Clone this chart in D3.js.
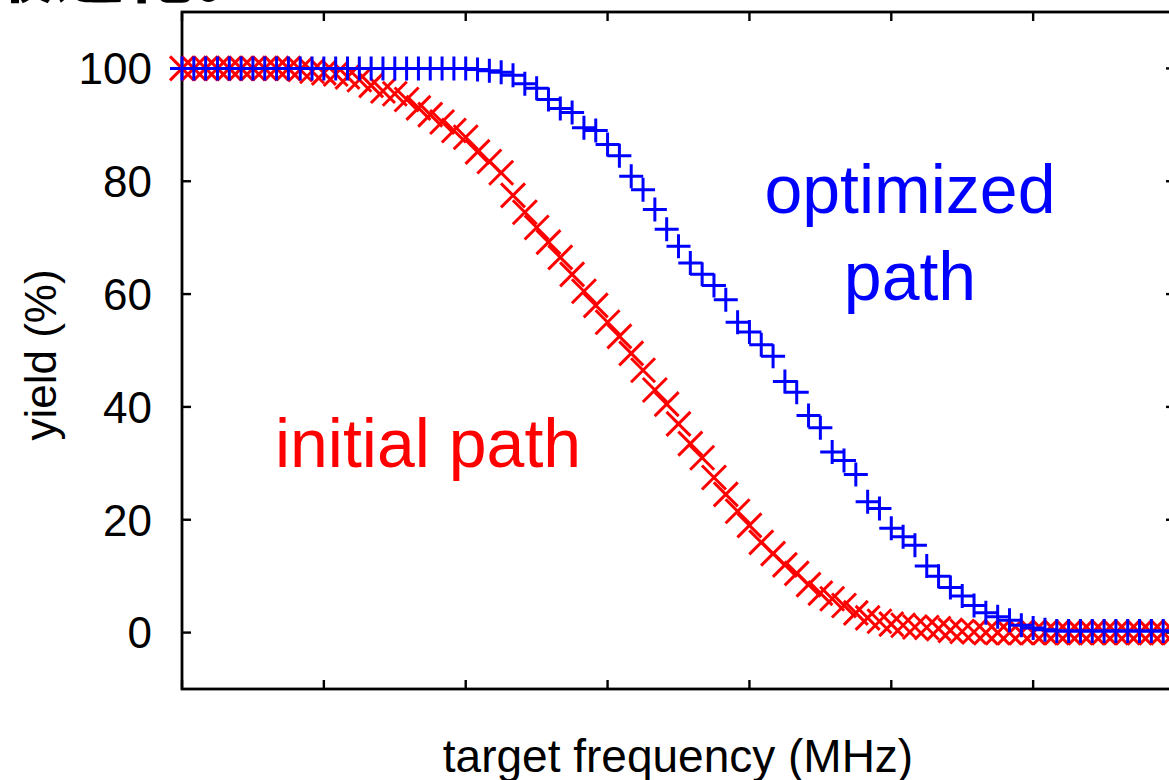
<!DOCTYPE html>
<html>
<head>
<meta charset="utf-8">
<script src="https://cdn.jsdelivr.net/npm/d3@7"></script>
<style>
  body { margin: 0; background: #fff; }
  svg { display: block; }
</style>
</head>
<body>
<div id="chart"></div>
<script>
// Frequency steps (x axis has no labels, only ticks every 12 steps)
const freqSteps = d3.range(85);
const xTickValues = [0, 12, 24, 36, 48, 60, 72, 84];
const yTickValues = [0, 20, 40, 60, 80, 100];

// Yield (%) of the initial path, one value per frequency step
const initialYield = [
    100, 100, 100, 100, 100, 100, 100, 100, 100, 100,
    99.8, 99.5, 99.2, 99, 98.5, 98, 97, 96, 95.5, 94.5,
    93, 91.8, 90.5, 89, 87.8, 85.2, 83.5, 81.5, 77.5, 74.5,
    71.8, 69.2, 66.5, 63.5, 60.5, 58, 55, 52.5, 49.5, 46.5,
    43, 40.5, 37, 33.5, 31, 27.5, 24.5, 21.5, 19, 16,
    14, 12, 10.5, 8.5, 7, 6, 4.8, 3.5, 2.6, 2,
    1.5, 1.3, 1, 0.9, 0.7, 0.4, 0.2, 0.1, 0, 0,
    0, 0, 0, 0, 0, 0, 0, 0, 0, 0,
    0, 0, 0, 0, 0
];

// Yield (%) of the optimized path
const optimizedYield = [
    100, 100, 100, 100, 100, 100, 100, 100, 100, 100,
    100, 100, 100, 100, 100, 100, 100, 100, 100, 100,
    100, 100, 100, 100, 100, 99.8, 99.6, 99.3, 98.8, 97.3,
    96.5, 94.5, 92.9, 92.2, 89.5, 89, 86.5, 84.5, 80.9, 78.5,
    75, 71.5, 68.5, 65.5, 63.5, 61.5, 59, 55, 53.3, 51,
    49, 44.5, 42.6, 38.5, 36.3, 32, 30.5, 28, 23.2, 22,
    18.5, 17, 15.5, 11.8, 10, 8, 6.5, 4.8, 3.5, 2.8,
    2.2, 1.3, 0.8, 0.5, 0.3, 0.3, 0.3, 0.3, 0.3, 0.3,
    0.3, 0.3, 0.3, 0.3, 0.3
];

const width = 1169, height = 780;
const font = "'Liberation Sans', Arial, Helvetica, sans-serif";

const svg = d3.select("#chart").append("svg")
    .attr("width", width)
    .attr("height", height);

// Cropped heading from the page above the figure (only its lower edge shows)
svg.append("text")
    .attr("x", -15)
    .attr("y", -3)
    .attr("font-family", "'Noto Sans CJK JP', sans-serif")
    .attr("font-weight", "bold")
    .attr("font-size", 70)
    .text("最適化。");

// Scales: the plot's right border lies just outside the picture
const x = d3.scaleLinear()
    .domain([0, 84])
    .range([182, 1175]);

const y = d3.scaleLinear()
    .domain([-10, 110])
    .range([689, 12]);

const plotLeft = x(0), plotRight = x(84), plotTop = y(110), plotBottom = y(-10);

// Frame
svg.append("rect")
    .attr("x", plotLeft)
    .attr("y", plotTop)
    .attr("width", plotRight - plotLeft)
    .attr("height", plotBottom - plotTop)
    .attr("fill", "none")
    .attr("stroke", "black")
    .attr("stroke-width", 2.8);

// Inward ticks, mirrored on opposite sides
const tickLen = 9;
xTickValues.forEach(v => {
    svg.append("line")
        .attr("x1", x(v)).attr("x2", x(v))
        .attr("y1", plotBottom).attr("y2", plotBottom - tickLen)
        .attr("stroke", "black").attr("stroke-width", 2.4);
    svg.append("line")
        .attr("x1", x(v)).attr("x2", x(v))
        .attr("y1", plotTop).attr("y2", plotTop + tickLen)
        .attr("stroke", "black").attr("stroke-width", 2.4);
});

yTickValues.forEach(v => {
    svg.append("line")
        .attr("x1", plotLeft).attr("x2", plotLeft + tickLen)
        .attr("y1", y(v)).attr("y2", y(v))
        .attr("stroke", "black").attr("stroke-width", 2.4);
    svg.append("line")
        .attr("x1", plotRight).attr("x2", plotRight - tickLen)
        .attr("y1", y(v)).attr("y2", y(v))
        .attr("stroke", "black").attr("stroke-width", 2.4);

    // Tick labels
    svg.append("text")
        .attr("x", 152)
        .attr("y", y(v))
        .attr("dy", "0.36em")
        .attr("text-anchor", "end")
        .attr("font-family", font)
        .attr("font-size", 44)
        .text(v);
});

// Axis labels
svg.append("text")
    .attr("transform", "rotate(-90)")
    .attr("x", -355)
    .attr("y", 56)
    .attr("text-anchor", "middle")
    .attr("font-family", font)
    .attr("font-size", 44)
    .text("yield (%)");

svg.append("text")
    .attr("x", 678)
    .attr("y", 772)
    .attr("text-anchor", "middle")
    .attr("font-family", font)
    .attr("font-size", 46)
    .text("target frequency (MHz)");

// Markers: red crosses for the initial path, blue pluses for the optimized one
const m = 12;
const initialPts = freqSteps.map(i => ({ step: i, value: initialYield[i] }));
const optimizedPts = freqSteps.map(i => ({ step: i, value: optimizedYield[i] }));

svg.append("g")
    .selectAll("path")
    .data(initialPts)
    .enter()
    .append("path")
    .attr("d", d => {
        const cx = x(d.step), cy = y(d.value);
        return `M${cx - m},${cy - m}L${cx + m},${cy + m}M${cx - m},${cy + m}L${cx + m},${cy - m}`;
    })
    .attr("stroke", "#ff0000")
    .attr("stroke-width", 3)
    .attr("fill", "none");

svg.append("g")
    .selectAll("path")
    .data(optimizedPts)
    .enter()
    .append("path")
    .attr("d", d => {
        const cx = x(d.step), cy = y(d.value);
        return `M${cx - m},${cy}L${cx + m},${cy}M${cx},${cy - m}L${cx},${cy + m}`;
    })
    .attr("stroke", "#0000ff")
    .attr("stroke-width", 3)
    .attr("fill", "none");

// In-plot labels
svg.append("text")
    .attr("x", 910)
    .attr("y", 213)
    .attr("text-anchor", "middle")
    .attr("font-family", font)
    .attr("font-size", 68)
    .attr("fill", "#0000ff")
    .text("optimized");

svg.append("text")
    .attr("x", 910)
    .attr("y", 300)
    .attr("text-anchor", "middle")
    .attr("font-family", font)
    .attr("font-size", 68)
    .attr("fill", "#0000ff")
    .text("path");

svg.append("text")
    .attr("x", 428)
    .attr("y", 467)
    .attr("text-anchor", "middle")
    .attr("font-family", font)
    .attr("font-size", 68)
    .attr("fill", "#ff0000")
    .text("initial path");
</script>
</body>
</html>
